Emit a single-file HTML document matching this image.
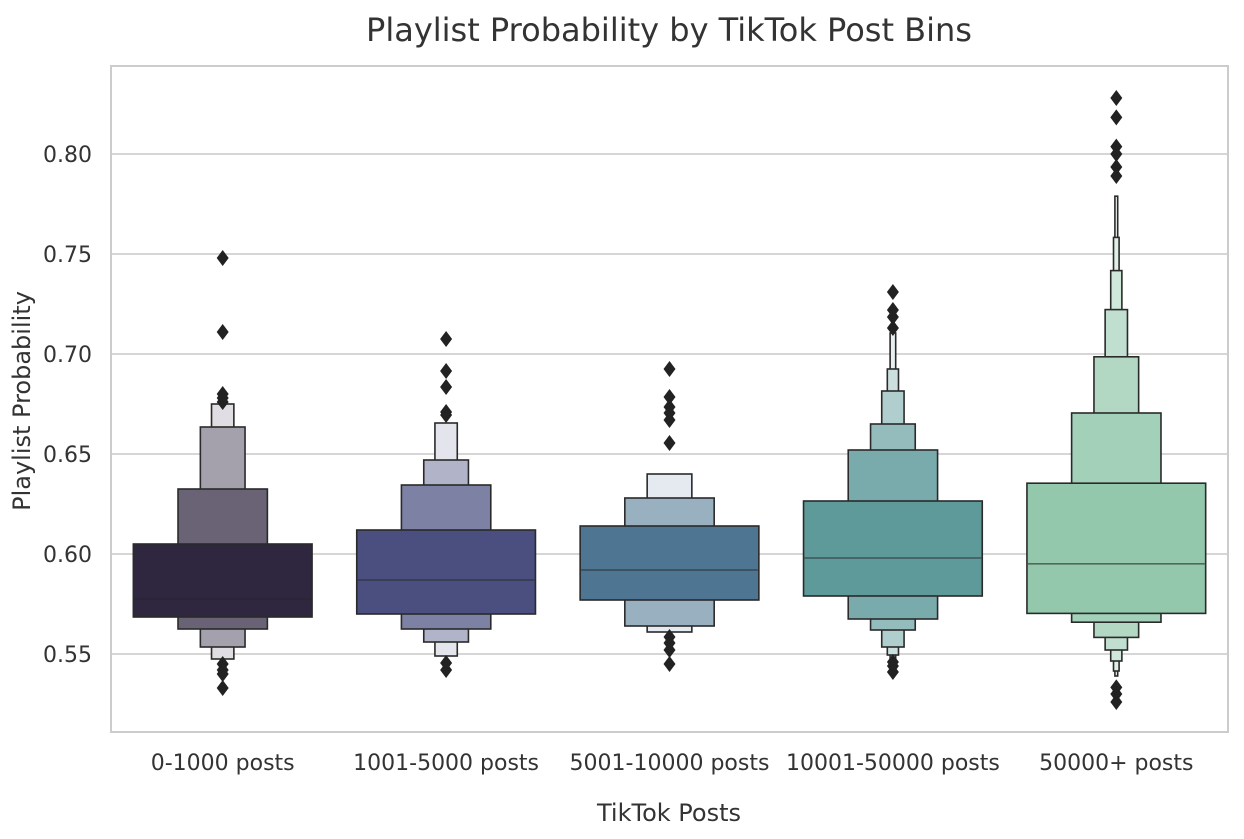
<!DOCTYPE html>
<html><head><meta charset="utf-8"><style>
body{margin:0;background:#fff;font-family:"Liberation Sans","DejaVu Sans",sans-serif;}
svg text{font-family:"DejaVu Sans","Liberation Sans",sans-serif;fill:#333;}
</style></head><body>
<svg id="chart" width="1244" height="834" xmlns="http://www.w3.org/2000/svg">
<text x="669" y="41" font-size="32" text-anchor="middle">Playlist Probability by TikTok Post Bins</text>
<rect x="111" y="66" width="1117" height="666" fill="#fff" stroke="#cccccc" stroke-width="2"/>
<g id="grid"></g><g id="marks"></g><g id="axes"></g>
<text x="669" y="821" font-size="24" text-anchor="middle">TikTok Posts</text>
<text transform="translate(30,401) rotate(-90)" font-size="24" text-anchor="middle">Playlist Probability</text>
</svg>
<script>
const categories=["0-1000 posts","1001-5000 posts","5001-10000 posts","10001-50000 posts","50000+ posts"];
const baseColors=["#2f2640","#4a4f80","#4e7592","#5f9a9b","#93c8ad"];
const medians=[0.5775,0.587,0.592,0.598,0.5951];
const upperLevels=[[0.605,0.6325,0.6635,0.675],[0.612,0.6345,0.647,0.6655],[0.614,0.628,0.640],[0.6265,0.652,0.665,0.6815,0.6925,0.7105],[0.6354,0.6705,0.6986,0.7222,0.7417,0.7583,0.7789]];
const lowerLevels=[[0.5685,0.5625,0.5535,0.5475],[0.570,0.5625,0.556,0.549],[0.577,0.564,0.561],[0.579,0.5675,0.562,0.5535,0.5495,0.5465],[0.5703,0.5659,0.5583,0.552,0.5465,0.5415,0.539]];
const outliers=[[0.748,0.711,0.680,0.678,0.676,0.545,0.542,0.540,0.533],[0.7075,0.6915,0.6835,0.671,0.6695,0.5455,0.542],[0.6925,0.6785,0.6735,0.6705,0.667,0.6555,0.5585,0.5555,0.552,0.545],[0.731,0.722,0.7185,0.713,0.546,0.544,0.541],[0.828,0.8183,0.8037,0.80,0.7935,0.789,0.5333,0.530,0.526]];
const yTicks=[0.55,0.60,0.65,0.70,0.75,0.80];
const yTickLabels=["0.55","0.60","0.65","0.70","0.75","0.80"];
const NS="http://www.w3.org/2000/svg";
function yScale(v){return 554-(v-0.60)*2000;}
function xScale(i){return 111+1117*(i+0.5)/categories.length;}
const bandW=1117/categories.length*0.8;
function mk(tag,attrs,parent){const e=document.createElementNS(NS,tag);for(const k in attrs)e.setAttribute(k,attrs[k]);parent.appendChild(e);return e;}
function lighten(hex,t){const n=parseInt(hex.slice(1),16);const r=n>>16,g=(n>>8)&255,b=n&255;const f=c=>Math.round(c+(255-c)*t);return `rgb(${f(r)},${f(g)},${f(b)})`;}
const grid=document.getElementById('grid'),marks=document.getElementById('marks'),axes=document.getElementById('axes');
yTicks.forEach((v,i)=>{
  const l=mk('line',{x1:112,x2:1227,y1:yScale(v),y2:yScale(v),stroke:'#d6d6d6','stroke-width':2},grid);
  
  
  const t=mk('text',{x:92,y:yScale(v)+8,'font-size':22,'text-anchor':'end'},axes);
  t.textContent=yTickLabels[i];
  
  
});
categories.forEach((c,i)=>{
  const cx=xScale(i);
  const g=mk('g',{},marks);
  
  
  const n=upperLevels[i].length;
  for(let k=n-1;k>=0;k--){
    const w=bandW/Math.pow(2,k);
    const t=k===0?0:k/(n-1)*0.85;
    const top=yScale(upperLevels[i][k]),bot=yScale(lowerLevels[i][k]);
    const r=mk('rect',{x:cx-w/2,y:top,width:w,height:bot-top,fill:lighten(baseColors[i],t),stroke:'#2a2a2a','stroke-width':1.6},g);
    
    
  }
  const m=mk('line',{x1:cx-bandW/2+1,x2:cx+bandW/2-1,y1:yScale(medians[i]),y2:yScale(medians[i]),stroke:'rgba(40,40,40,0.6)','stroke-width':1.6},g);
  
  
  outliers[i].forEach(v=>{
    const y=yScale(v);
    const p=mk('polygon',{points:`${cx},${y-8} ${cx+6},${y} ${cx},${y+8} ${cx-6},${y}`,fill:'#222'},g);
    
    
  });
  const t=mk('text',{x:cx,y:770,'font-size':22,'text-anchor':'middle'},axes);
  t.textContent=c;
  
  
});
</script>
</body></html>
